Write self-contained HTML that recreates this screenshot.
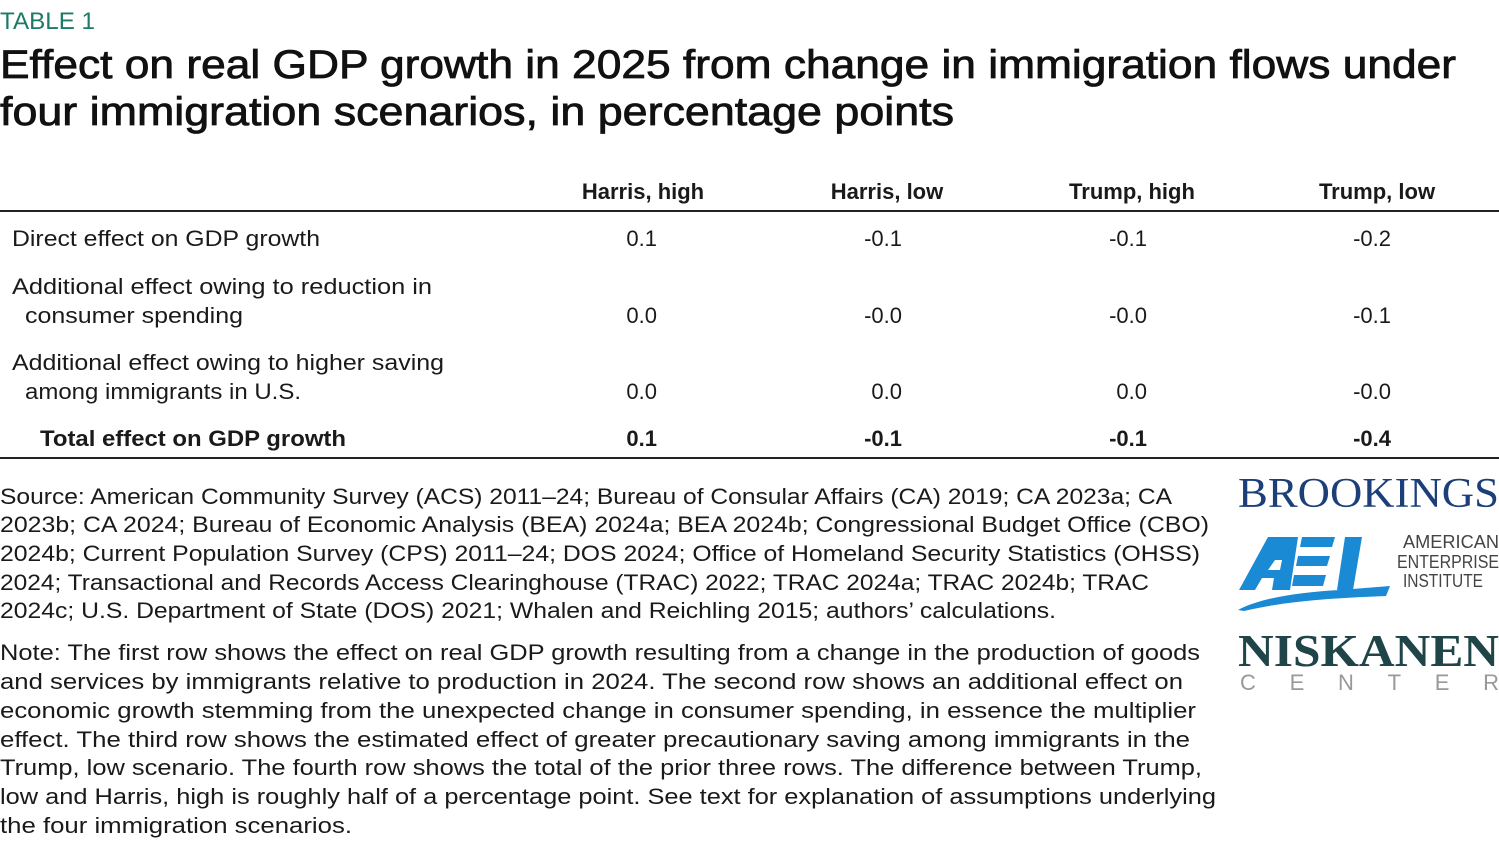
<!DOCTYPE html>
<html><head><meta charset="utf-8"><style>
html,body{margin:0;padding:0;background:#fff;width:1499px;height:841px;overflow:hidden}
svg{display:block}
text{font-family:"Liberation Sans",sans-serif;fill:#1a1a1a}
.b{font-size:22px}
.h{font-size:22px;font-weight:bold}
</style></head><body>
<svg width="1499" height="841" viewBox="0 0 1499 841" xmlns="http://www.w3.org/2000/svg">
<text x="0" y="29" font-size="24" style="fill:#1c7a66" textLength="95" lengthAdjust="spacingAndGlyphs">TABLE 1</text>
<text x="0" y="78" font-size="40" style="fill:#111;stroke:#111;stroke-width:0.8" textLength="1456" lengthAdjust="spacingAndGlyphs">Effect on real GDP growth in 2025 from change in immigration flows under</text>
<text x="0" y="125" font-size="40" style="fill:#111;stroke:#111;stroke-width:0.8" textLength="954" lengthAdjust="spacingAndGlyphs">four immigration scenarios, in percentage points</text>

<text class="h" x="643" y="199" text-anchor="middle">Harris, high</text>
<text class="h" x="887" y="199" text-anchor="middle">Harris, low</text>
<text class="h" x="1132" y="199" text-anchor="middle">Trump, high</text>
<text class="h" x="1377" y="199" text-anchor="middle">Trump, low</text>
<rect x="0" y="210" width="1499" height="2" fill="#222"/>

<text class="b" x="12" y="246" textLength="308" lengthAdjust="spacingAndGlyphs">Direct effect on GDP growth</text>
<text class="b" x="12" y="294" textLength="420" lengthAdjust="spacingAndGlyphs">Additional effect owing to reduction in</text>
<text class="b" x="25" y="323" textLength="218" lengthAdjust="spacingAndGlyphs">consumer spending</text>
<text class="b" x="12" y="370" textLength="432" lengthAdjust="spacingAndGlyphs">Additional effect owing to higher saving</text>
<text class="b" x="25" y="399" textLength="276" lengthAdjust="spacingAndGlyphs">among immigrants in U.S.</text>
<text class="h" x="40" y="446" textLength="306" lengthAdjust="spacingAndGlyphs">Total effect on GDP growth</text>

<g text-anchor="end">
<text class="b" x="657" y="246">0.1</text><text class="b" x="902" y="246">-0.1</text><text class="b" x="1147" y="246">-0.1</text><text class="b" x="1391" y="246">-0.2</text>
<text class="b" x="657" y="323">0.0</text><text class="b" x="902" y="323">-0.0</text><text class="b" x="1147" y="323">-0.0</text><text class="b" x="1391" y="323">-0.1</text>
<text class="b" x="657" y="399">0.0</text><text class="b" x="902" y="399">0.0</text><text class="b" x="1147" y="399">0.0</text><text class="b" x="1391" y="399">-0.0</text>
<text class="h" x="657" y="446">0.1</text><text class="h" x="902" y="446">-0.1</text><text class="h" x="1147" y="446">-0.1</text><text class="h" x="1391" y="446">-0.4</text>
</g>
<rect x="0" y="457" width="1499" height="2" fill="#222"/>

<text class="b" x="0" y="504" textLength="1172" lengthAdjust="spacingAndGlyphs">Source: American Community Survey (ACS) 2011–24; Bureau of Consular Affairs (CA) 2019; CA 2023a; CA</text>
<text class="b" x="0" y="532" textLength="1209" lengthAdjust="spacingAndGlyphs">2023b; CA 2024; Bureau of Economic Analysis (BEA) 2024a; BEA 2024b; Congressional Budget Office (CBO)</text>
<text class="b" x="0" y="561" textLength="1200" lengthAdjust="spacingAndGlyphs">2024b; Current Population Survey (CPS) 2011–24; DOS 2024; Office of Homeland Security Statistics (OHSS)</text>
<text class="b" x="0" y="590" textLength="1149" lengthAdjust="spacingAndGlyphs">2024; Transactional and Records Access Clearinghouse (TRAC) 2022; TRAC 2024a; TRAC 2024b; TRAC</text>
<text class="b" x="0" y="618" textLength="1056" lengthAdjust="spacingAndGlyphs">2024c; U.S. Department of State (DOS) 2021; Whalen and Reichling 2015; authors’ calculations.</text>

<text class="b" x="0" y="660" textLength="1200" lengthAdjust="spacingAndGlyphs">Note: The first row shows the effect on real GDP growth resulting from a change in the production of goods</text>
<text class="b" x="0" y="689" textLength="1183" lengthAdjust="spacingAndGlyphs">and services by immigrants relative to production in 2024. The second row shows an additional effect on</text>
<text class="b" x="0" y="718" textLength="1196" lengthAdjust="spacingAndGlyphs">economic growth stemming from the unexpected change in consumer spending, in essence the multiplier</text>
<text class="b" x="0" y="747" textLength="1190" lengthAdjust="spacingAndGlyphs">effect. The third row shows the estimated effect of greater precautionary saving among immigrants in the</text>
<text class="b" x="0" y="775" textLength="1202" lengthAdjust="spacingAndGlyphs">Trump, low scenario. The fourth row shows the total of the prior three rows. The difference between Trump,</text>
<text class="b" x="0" y="804" textLength="1216" lengthAdjust="spacingAndGlyphs">low and Harris, high is roughly half of a percentage point. See text for explanation of assumptions underlying</text>
<text class="b" x="0" y="833" textLength="352" lengthAdjust="spacingAndGlyphs">the four immigration scenarios.</text>

<text x="1238" y="507" font-size="42" style="font-family:'Liberation Serif',serif;fill:#1c3f7a" textLength="261" lengthAdjust="spacingAndGlyphs">BROOKINGS</text>

<g fill="#1a8ad4">
<polygon points="1268,537 1298,537 1290,590 1272,590 1274,578 1262,578 1255,590 1239,590"/>
<polygon points="1302,537 1335,537 1332,547 1300,547"/>
<polygon points="1298,556 1330,556 1327,566 1296,566"/>
<polygon points="1294,575 1326,575 1323,586 1292,586"/>
<polygon points="1345,537 1362,537 1353,590 1337,590"/>
<path d="M1238,610 C1260,598 1300,592 1340,590 L1390,586 L1386,596 C1340,598 1290,600 1244,611 Z"/>
</g>
<polygon points="1275,560 1282,560 1280,570 1268,570" fill="#fff"/>
<g font-size="18">
<text x="1403" y="548" style="fill:#444" textLength="96" lengthAdjust="spacingAndGlyphs">AMERICAN</text>
<text x="1397" y="568" style="fill:#444" textLength="102" lengthAdjust="spacingAndGlyphs">ENTERPRISE</text>
<text x="1403" y="587" style="fill:#444" textLength="80" lengthAdjust="spacingAndGlyphs">INSTITUTE</text>
</g>

<text x="1238" y="666" font-size="46" font-weight="bold" style="font-family:'Liberation Serif',serif;fill:#1f4548" textLength="261" lengthAdjust="spacingAndGlyphs">NISKANEN</text>
<text x="1240" y="690" font-size="22" style="fill:#999" textLength="259" lengthAdjust="spacing">CENTER</text>
</svg>
</body></html>
